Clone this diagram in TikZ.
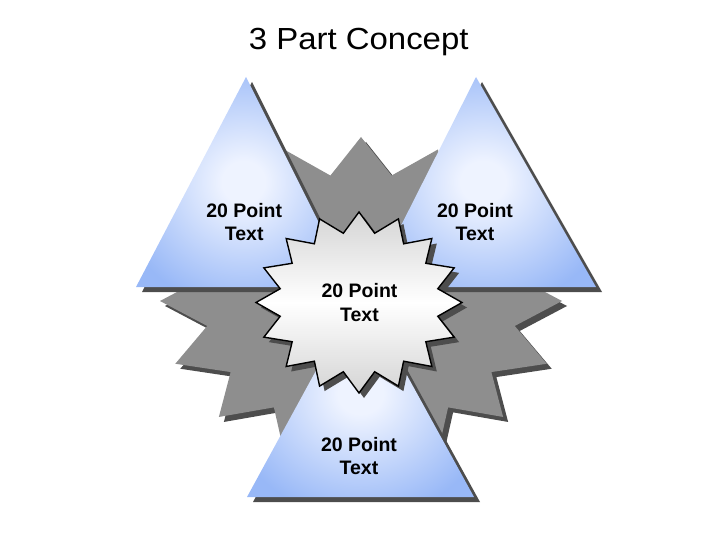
\documentclass[tikz,border=0pt]{standalone}
\usepackage{fontspec}
\setmainfont{Liberation Sans}
\newfontfamily\titlefont[FakeStretch=1.08]{Liberation Sans}
\definecolor{tblue}{RGB}{152,184,247}
\definecolor{tlight}{RGB}{238,243,255}
\definecolor{stargray}{RGB}{142,142,142}
\definecolor{shadowgray}{RGB}{77,77,77}
\definecolor{cgray}{RGB}{212,212,212}
\pgfdeclareradialshading{triglow}{\pgfpoint{0bp}{0bp}}{color(0bp)=(tlight); color(5bp)=(tlight); color(30bp)=(tblue); color(100bp)=(tblue)}
% 16-point star path: centre (#1,#2), radii #3,#4, inner ratio 0.78
\newcommand{\sixteenstar}[4]{({#1},{#2-#4}) \foreach \k in {1,...,31}{ -- ({#1+#3*(1-0.22*mod(\k,2))*sin(\k*11.25)},{#2-#4*(1-0.22*mod(\k,2))*cos(\k*11.25)}) } -- cycle}
\begin{document}
\begin{tikzpicture}[x=1pt,y=-1pt,
  shadowfill/.style={fill=shadowgray},
  bigstar/.style={fill=stargray},
  tri/.style={shading=triglow},
  centrestar/.style={draw=black, line width=1.4pt, line join=miter, top color=cgray, bottom color=cgray, middle color=white},
  lab/.style={font=\bfseries\fontsize{19.5}{23.3}\selectfont, align=center, inner sep=0pt}]
\useasboundingbox (0,0) rectangle (720,540);
% big grey star
\fill[shadowfill, shift={(5,5)}] \sixteenstar{361}{301}{201}{164};
\fill[bigstar] \sixteenstar{361}{301}{201}{164};
% triangles
\fill[shadowfill, shift={(6,5)}] (246,77) -- (136,287) -- (351,287) -- cycle;
\shade[tri] (246,77) -- (136,287) -- (351,287) -- cycle;
\fill[shadowfill, shift={(6,5)}] (476,77) -- (370,287) -- (596,287) -- cycle;
\shade[tri] (476,77) -- (370,287) -- (596,287) -- cycle;
\fill[shadowfill, shift={(6,5)}] (360,290) -- (247,497) -- (474,497) -- cycle;
\shade[tri] (360,290) -- (247,497) -- (474,497) -- cycle;
% centre star
\fill[shadowfill, shift={(5,5)}] \sixteenstar{359}{302.5}{103}{90.5};
\path[centrestar] \sixteenstar{359}{302.5}{103}{90.5};
% texts
\node[font=\titlefont\fontsize{30.5}{36}\selectfont, anchor=base, inner sep=0pt] (title) at (358.7,49.5) {3 Part Concept};
\node[lab] (left) at (244.2,222.3) {20 Point\\Text};
\node[lab] (right) at (475,222.3) {20 Point\\Text};
\node[lab] (centre) at (359.5,302.5) {20 Point\\Text};
\node[lab] (bottom) at (359,456.3) {20 Point\\Text};
\end{tikzpicture}
\end{document}
